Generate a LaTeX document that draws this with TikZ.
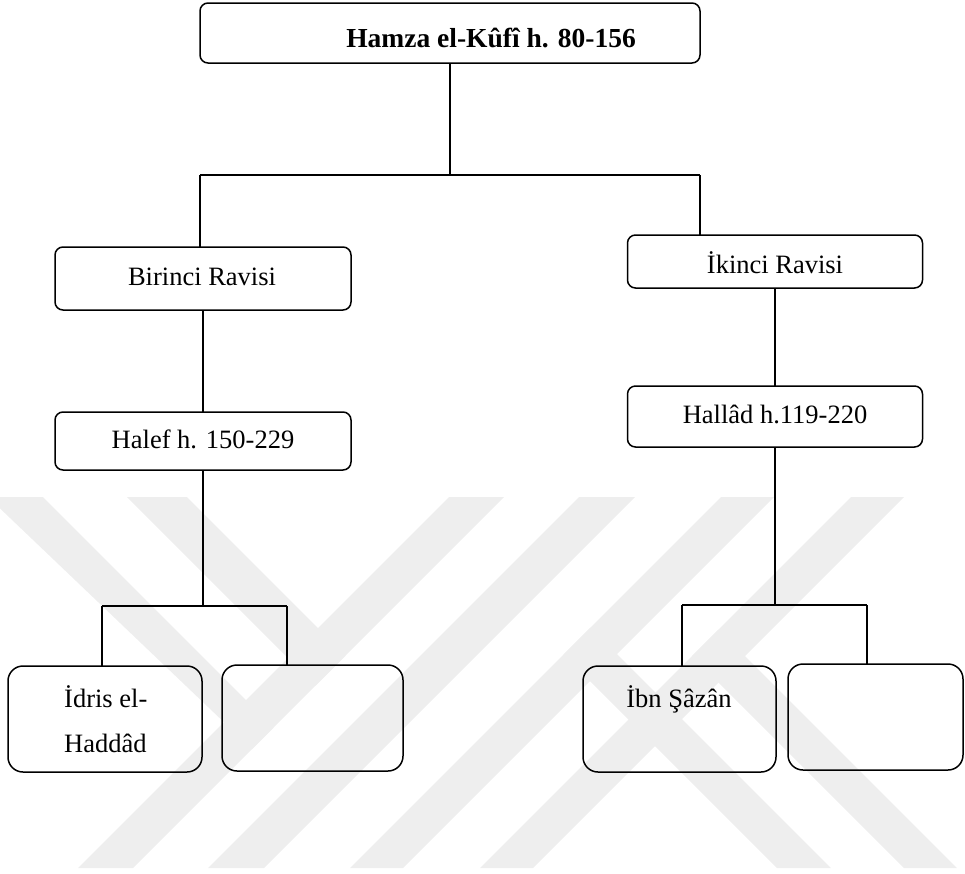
\documentclass[tikz,border=0pt]{standalone}
\usepackage{fontspec}
\setmainfont{Liberation Serif}
\definecolor{wmark}{HTML}{EEEEEE}
\begin{document}
\begin{tikzpicture}[x=1pt,y=-1pt,
  box/.style={draw=black,line width=1.5pt,rounded corners=8pt,inner sep=0pt,outer sep=0pt},
  bigbox/.style={box,rounded corners=15pt},
  link/.style={draw=black,line width=1.5pt},
  lbl/.style={inner sep=0pt,anchor=base,font=\fontsize{26.5}{45}\selectfont},
  band/.style={fill=wmark,draw=none}]
\useasboundingbox (0,0) rectangle (965,873);
% faint background stripes
\fill[band] (449,497) -- (504,497) -- (133,868) -- (78,868) -- cycle;
\fill[band] (579,497) -- (635,497) -- (264,868) -- (208,868) -- cycle;
\fill[band] (721,497) -- (774,497) -- (403,868) -- (350,868) -- cycle;
\fill[band] (851,497) -- (904,497) -- (533,868) -- (480,868) -- cycle;
\fill[band] (127,497) -- (187,497) -- (345.5,655.5) -- (315.5,685.5) -- cycle;
\fill[band] (-12,497) -- (43,497) -- (273.5,727.5) -- (252,749) -- cycle;
\fill[band] (904,868) -- (957,868) -- (718.5,629.5) -- (692,656) -- cycle;
\fill[band] (777,868) -- (831,868) -- (590.5,627.5) -- (563.5,654.5) -- cycle;
% boxes
\node[box,minimum width=500pt,minimum height=60pt] (top) at (450,33) {};
\node[box,minimum width=296pt,minimum height=63pt] (bir) at (203,278.5) {};
\node[box,minimum width=296pt,minimum height=58pt] (hal) at (203,441) {};
\node[box,minimum width=295pt,minimum height=53pt] (iki) at (775,261.5) {};
\node[box,minimum width=295pt,minimum height=61pt] (hld) at (775,416.5) {};
\node[bigbox,minimum width=194pt,minimum height=106pt] (idr) at (105,719) {};
\node[bigbox,minimum width=181pt,minimum height=106pt] (ea) at (312.5,718) {};
\node[bigbox,minimum width=193pt,minimum height=106pt] (ibn) at (679.5,719) {};
\node[bigbox,minimum width=175pt,minimum height=106pt] (eb) at (875.5,717) {};
% labels
\node[lbl,font=\fontsize{27.5}{30}\selectfont\bfseries] (ttop) at (491,47) {Hamza el-Kûfî h. 80-156};
\node[lbl] (tbir) at (202,285) {Birinci Ravisi};
\node[lbl] (thal) at (203,448) {Halef h. 150-229};
\node[lbl] (tiki) at (775,273) {İkinci Ravisi};
\node[lbl] (thld) at (775,423) {Hallâd h.119-220};
\node[lbl,anchor=base west,align=left] (tidr) at (64,752) {İdris el-\\Haddâd};
\node[lbl] (tibn) at (679,707) {İbn Şâzân};
% junction points
\coordinate (jT) at (450,175);
\coordinate (busL) at (200,175);
\coordinate (busR) at (700,175);
\coordinate (jL) at (203,606);
\coordinate (lL) at (102,606);
\coordinate (lR) at (287,606);
\coordinate (jR) at (775,605);
\coordinate (rL) at (682,605);
\coordinate (rR) at (867,605);
% connectors
\draw[link] (top.south) -- (jT);
\draw[link] (busL) -- (busR);
\draw[link] (busL) -- (busL |- bir.north);
\draw[link] (busR) -- (busR |- iki.north);
\draw[link] (bir.south) -- (hal.north);
\draw[link] (hal.south) -- (jL);
\draw[link] (lL) -- (lR);
\draw[link] (lL) -- (lL |- idr.north);
\draw[link] (lR) -- (lR |- ea.north);
\draw[link] (iki.south) -- (hld.north);
\draw[link] (hld.south) -- (jR);
\draw[link] (rL) -- (rR);
\draw[link] (rL) -- (rL |- ibn.north);
\draw[link] (rR) -- (rR |- eb.north);
\end{tikzpicture}
\end{document}
